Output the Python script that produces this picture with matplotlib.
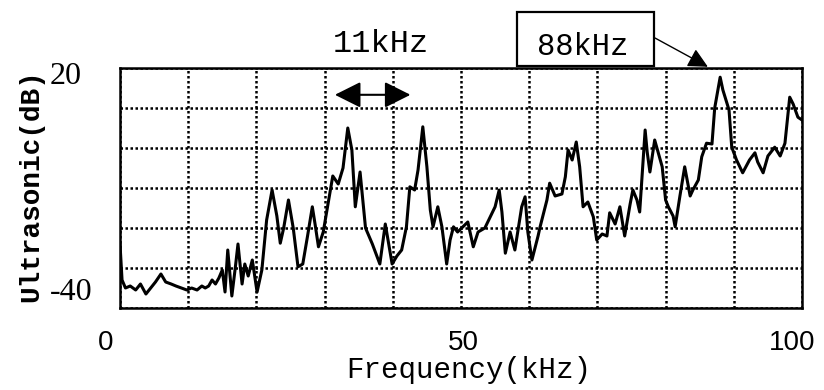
import numpy as np
import matplotlib.pyplot as plt
import matplotlib.transforms as mtransforms
from matplotlib.patches import Rectangle

# spectrum (kHz, dB)
freq = [0.0, 0.3, 0.8, 1.5, 2.3, 3.0, 3.8, 4.5, 5.2, 6.0,
        6.7, 7.5, 8.2, 9.0, 9.8, 10.5, 11.3, 12.0, 12.5, 13.0,
        13.5, 14.0, 14.5, 15.0, 15.4, 15.8, 16.4, 16.9, 17.3, 17.9,
        18.3, 18.8, 19.4, 20.1, 20.8, 21.5, 22.3, 23.0, 23.5, 24.0,
        24.7, 25.4, 26.1, 26.8, 27.5, 28.2, 28.6, 29.1, 29.8, 30.3,
        31.2, 32.0, 32.7, 33.4, 34.0, 34.5, 35.2, 36.0, 37.0, 38.1,
        38.9, 39.4, 39.9, 40.6, 41.3, 42.0, 42.5, 43.2, 43.7, 44.4,
        45.0, 45.5, 45.9, 46.6, 47.2, 47.9, 48.4, 48.9, 49.5, 50.1,
        51.0, 51.8, 52.5, 53.5, 54.3, 55.0, 55.6, 56.0, 56.5, 57.2,
        57.9, 58.9, 59.4, 59.8, 60.4, 61.3, 61.6, 62.6, 63.0, 63.8,
        64.8, 65.3, 65.7, 66.3, 66.9, 67.4, 67.9, 68.6, 69.4, 69.9,
        70.7, 71.4, 71.8, 72.6, 73.3, 74.0, 74.8, 75.2, 75.8, 76.2,
        77.0, 77.3, 77.7, 78.4, 78.9, 79.5, 80.0, 80.4, 81.1, 81.4,
        82.1, 82.8, 83.6, 84.0, 84.8, 85.3, 86.0, 86.8, 87.2, 88.0,
        88.4, 89.3, 89.7, 90.4, 91.3, 92.3, 93.1, 93.5, 94.3, 95.0,
        96.0, 96.8, 97.5, 98.2, 98.7, 99.4, 100.0]
level = [-24, -33, -35, -34.5, -35.5, -34, -36.5, -35, -33.5, -31.5,
         -33.5, -34, -34.5, -35, -35.5, -35, -35.5, -34.5, -35, -34.5,
         -33, -34, -32.5, -30.5, -36, -25.5, -37, -30, -24, -34,
         -29, -32, -28, -36, -30.5, -18, -10.5, -17, -23.8, -20,
         -13, -20, -29.7, -29, -22, -14.7, -19, -24.7, -21, -16,
         -7, -9, -5, 5, -0.5, -14.7, -6, -20, -24, -29,
         -19, -24, -29, -27, -25.5, -19.7, -9.7, -10.5, -5.5, 5.3,
         -4.7, -15.5, -19.7, -14.7, -19.7, -29, -23, -19.7, -21, -20,
         -18.5, -24.7, -21, -20, -17.2, -14.7, -10.5, -16, -26.3, -21,
         -25.5, -14.7, -12.2, -21, -28, -22, -19.7, -13, -8.8, -12,
         -11.5, -7.2, -0.5, -3, 1.5, -4.7, -14.7, -13.5, -17.2, -23,
         -21.5, -22, -16.2, -19, -14.7, -22, -14, -10.5, -13, -16,
         4.5, -1, -6, 2, -1, -4.7, -13, -14.7, -17, -19.7,
         -12, -4.7, -12, -10.5, -8, -2.2, 1.2, 1, 10, 17.7,
         14.5, 9.5, 0.2, -3, -6.2, -3, -1.2, -3.5, -6.2, -2,
         0.2, -2, 1.2, 12.7, 11, 7.7, 7]

xticks = [0, 50, 100]
xtick_labels = ['0', '50', '100']
yticks = [-40, 20]
ytick_labels = ['-40', '20']

# annotation anchors (data units)
span_11k = (31.1, 43.0)
span_y = 13.3
peak_88k = (86.2, 20.3)

fig = plt.figure(figsize=(8.24, 3.9), dpi=100)
ax = fig.add_axes([120/824, 82/390, 682/824, 240/390])

ax.plot(freq, level, color='black', lw=2.2)
ax.set_xlim(0, 100)
ax.set_ylim(-40, 20)

ax.set_xticks(xticks)
ax.set_xticklabels(xtick_labels, family='Liberation Sans', fontsize=20)
ax.set_yticks(yticks)
ax.set_yticklabels(ytick_labels, family='Liberation Serif', fontsize=23)
ax.set_xticks(np.arange(10, 100, 10), minor=True)
ax.set_yticks(np.arange(-30, 20, 10), minor=True)
ax.grid(which='both', color='black', linestyle=(0, (1, 1)), lw=1.8)
ax.tick_params(which='both', length=0, pad=0)
for s in ax.spines.values():
    s.set_linewidth(1.8)

# nudge tick labels to where they sit in the original
def nudge(lbl, dx, dy):
    lbl.set_transform(lbl.get_transform() + mtransforms.ScaledTranslation(dx/100, dy/100, fig.dpi_scale_trans))

for lbl, dx in zip(ax.get_xticklabels(), [-14, 2, -10]):
    lbl.set_verticalalignment('center')
    nudge(lbl, dx, -35)
for lbl, (dx, dy) in zip(ax.get_yticklabels(), [(-27, 15), (-38, -9)]):
    lbl.set_verticalalignment('center')
    nudge(lbl, dx, dy)

fig.text(469/824, 1 - 378/390, 'Frequency(kHz)', family='Liberation Mono',
         fontsize=21, ha='center', va='baseline')
fig.text(31/824, 1 - 186/390, 'Ultrasonic(dB)', family='Liberation Mono',
         fontsize=20, fontweight='bold', rotation=90, ha='center', va='center')

# 11kHz span arrow
fig.text(381/824, 1 - 52/390, '11kHz', family='Liberation Mono', fontsize=23,
         ha='center', va='baseline')
ax.annotate('', xy=(span_11k[0], span_y), xytext=(span_11k[1], span_y),
            arrowprops=dict(arrowstyle='<|-|>', color='black', lw=1.5,
                            mutation_scale=40))

# 88kHz boxed label
fig.patches.append(Rectangle((517/824, 1 - 66/390), 137/824, 54/390,
                             transform=fig.transFigure, fill=False,
                             edgecolor='black', lw=1.6))
fig.text(583/824, 1 - 55/390, '88kHz', family='Liberation Mono', fontsize=22,
         ha='center', va='baseline')
ax.annotate('', xy=peak_88k, xycoords='data',
            xytext=(655/824, 1 - 38/390), textcoords='figure fraction',
            arrowprops=dict(arrowstyle='-|>', color='black', lw=1,
                            mutation_scale=30, shrinkA=0, shrinkB=0),
            annotation_clip=False)

fig.savefig('out.png', dpi=100)
